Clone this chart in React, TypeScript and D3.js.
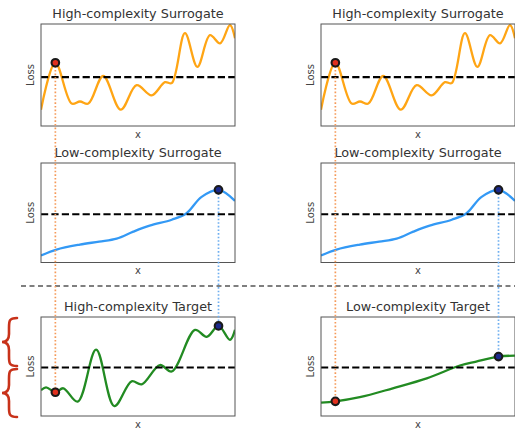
import React from "react";
import * as d3 from "d3";

// ---- data (x in 0..100 across the panel, y = normalised loss 0..1) ----
const hiSurrX = [0, 7.4, 15.8, 20.1, 24.4, 32.1, 41.1, 49.3, 57.0, 63.9, 67.4, 74.2, 80.6, 87.1, 92.3, 97.4, 100];
const hiSurrY = [0.16, 0.62, 0.22, 0.24, 0.22, 0.49, 0.16, 0.40, 0.30, 0.43, 0.42, 0.91, 0.58, 0.89, 0.81, 0.99, 0.86];

const loSurrX = [0, 8, 20, 30, 39, 47.6, 56, 67.4, 74.7, 82.8, 91.5, 100];
const loSurrY = [0.07, 0.13, 0.18, 0.21, 0.24, 0.31, 0.37, 0.43, 0.49, 0.66, 0.73, 0.62];

const hiTargX = [0, 2.6, 7.4, 11.5, 18.9, 28.4, 37.8, 46.7, 51.9, 61.3, 67.4, 79.4, 85.4, 91.5, 97.4, 100];
const hiTargY = [0.26, 0.29, 0.24, 0.28, 0.145, 0.67, 0.10, 0.35, 0.32, 0.515, 0.45, 0.87, 0.80, 0.91, 0.77, 0.87];

const loTargX = [0, 7.4, 20, 37, 54.5, 71.6, 80, 91.5, 100];
const loTargY = [0.135, 0.148, 0.19, 0.28, 0.38, 0.51, 0.55, 0.60, 0.61];

const thresholds = [0.48, 0.485, 0.49, 0.49]; // hiSurr, loSurr, hiTarg, loTarg

const redX = 7.4;
const blueX = 91.5;
const redY = { hiSurr: 0.62, hiTarg: 0.24, loTarg: 0.148 };
const blueY = { loSurr: 0.73, hiTarg: 0.91, loTarg: 0.60 };

const titles = [
  "High-complexity Surrogate",
  "Low-complexity Surrogate",
  "High-complexity Target",
  "Low-complexity Target",
];

// ---- layout ----
const W = 515;
const H = 428;
const colX = [41, 321];
const panelW = 194;
const rows = [
  { y: 24, h: 102 },
  { y: 163, h: 99.5 },
  { y: 317, h: 99 },
];

const ORANGE = "#ffa514";
const BLUE = "#3399f5";
const GREEN = "#228b22";
const RED_FILL = "#e0301e";
const NAVY_FILL = "#1c2a8c";
const FONT = "DejaVu Sans, Verdana, sans-serif";

function makeScales(col: number, row: number) {
  const x = d3.scaleLinear().domain([0, 100]).range([colX[col], colX[col] + panelW]);
  const r = rows[row];
  const y = d3.scaleLinear().domain([0, 1]).range([r.y + r.h, r.y]);
  return { x, y };
}

type PanelProps = {
  col: number;
  row: number;
  title: string;
  xs: number[];
  ys: number[];
  color: string;
  threshold: number;
};

function Panel({ col, row, title, xs, ys, color, threshold }: PanelProps) {
  const { x, y } = makeScales(col, row);
  const r = rows[row];
  const pts: [number, number][] = xs.map((v, i) => [v, ys[i]]);
  const line = d3
    .line<[number, number]>()
    .x((d) => x(d[0]))
    .y((d) => y(d[1]))
    .curve(d3.curveCatmullRom.alpha(0.5));
  const cx = colX[col] + panelW / 2;
  const clipId = `clip-${col}-${row}`;
  return (
    <g>
      <defs>
        <clipPath id={clipId}>
          <rect x={colX[col]} y={r.y} width={panelW} height={r.h} />
        </clipPath>
      </defs>
      <text x={cx} y={r.y - 6.5} textAnchor="middle" fontSize={12.8} fill="#333" fontFamily={FONT}>
        {title}
      </text>
      <text
        transform={`translate(${colX[col] - 7},${r.y + r.h / 2}) rotate(-90)`}
        textAnchor="middle"
        fontSize={10}
        fill="#444"
        fontFamily={FONT}
      >
        Loss
      </text>
      <text x={cx} y={r.y + r.h + 11.5} textAnchor="middle" fontSize={10} fill="#444" fontFamily={FONT}>
        x
      </text>
      <g clipPath={`url(#${clipId})`}>
        <path d={line(pts) || ""} fill="none" stroke={color} strokeWidth={2.3} strokeLinejoin="round" />
      </g>
      <line
        x1={colX[col]}
        x2={colX[col] + panelW}
        y1={y(threshold)}
        y2={y(threshold)}
        stroke="#000"
        strokeWidth={2.2}
        strokeDasharray="7.2,3.2"
      />
      <rect x={colX[col]} y={r.y} width={panelW} height={r.h} fill="none" stroke="#555" strokeWidth={1} />
    </g>
  );
}

function Brace({ x, y1, y2 }: { x: number; y1: number; y2: number }) {
  const m = (y1 + y2) / 2;
  const tip = x - 15;
  const mid = x - 8;
  const d = `M${x},${y1} C${mid},${y1} ${mid},${y1 + 3} ${mid},${y1 + 10} L${mid},${m - 8} C${mid},${m - 2} ${mid - 3},${m} ${tip},${m} C${mid - 3},${m} ${mid},${m + 2} ${mid},${m + 8} L${mid},${y2 - 10} C${mid},${y2 - 3} ${mid},${y2} ${x},${y2}`;
  return <path d={d} fill="none" stroke="#c8321a" strokeWidth={2.6} strokeLinecap="round" />;
}

function Marker({ cx, cy, fill }: { cx: number; cy: number; fill: string }) {
  return <circle cx={cx} cy={cy} r={3.8} fill={fill} stroke="#1a1a1a" strokeWidth={2.1} />;
}

export default function App() {
  const panels = [0, 1].map((col) => (
    <g key={col}>
      <Panel col={col} row={0} title={titles[0]} xs={hiSurrX} ys={hiSurrY} color={ORANGE} threshold={thresholds[0]} />
      <Panel col={col} row={1} title={titles[1]} xs={loSurrX} ys={loSurrY} color={BLUE} threshold={thresholds[1]} />
      {col === 0 ? (
        <Panel col={0} row={2} title={titles[2]} xs={hiTargX} ys={hiTargY} color={GREEN} threshold={thresholds[2]} />
      ) : (
        <Panel col={1} row={2} title={titles[3]} xs={loTargX} ys={loTargY} color={GREEN} threshold={thresholds[3]} />
      )}
    </g>
  ));

  const guides = [0, 1].map((col) => {
    const top = makeScales(col, 0);
    const mid = makeScales(col, 1);
    const bot = makeScales(col, 2);
    const rY = col === 0 ? redY.hiTarg : redY.loTarg;
    const bY = col === 0 ? blueY.hiTarg : blueY.loTarg;
    return (
      <g key={col}>
        <line
          x1={top.x(redX)}
          x2={top.x(redX)}
          y1={top.y(redY.hiSurr)}
          y2={bot.y(rY)}
          stroke="#f59a5a"
          strokeWidth={1.7}
          strokeDasharray="1.6,2"
        />
        <line
          x1={mid.x(blueX)}
          x2={mid.x(blueX)}
          y1={mid.y(blueY.loSurr)}
          y2={bot.y(bY)}
          stroke="#6eaef0"
          strokeWidth={1.7}
          strokeDasharray="1.6,2"
        />
        <Marker cx={top.x(redX)} cy={top.y(redY.hiSurr)} fill={RED_FILL} />
        <Marker cx={mid.x(blueX)} cy={mid.y(blueY.loSurr)} fill={NAVY_FILL} />
        <Marker cx={bot.x(redX)} cy={bot.y(rY)} fill={RED_FILL} />
        <Marker cx={bot.x(blueX)} cy={bot.y(bY)} fill={NAVY_FILL} />
      </g>
    );
  });

  return (
    <svg
      width={W}
      height={H}
      viewBox={`0 0 ${W} ${H}`}
      style={{ position: "absolute", left: 0, top: 0, background: "#fff" }}
    >
      <rect x={0} y={0} width={W} height={H} fill="#fff" />
      {panels}
      <line x1={21} x2={W} y1={286} y2={286} stroke="#555" strokeWidth={1.3} strokeDasharray="5,3.5" />
      {guides}
      <Brace x={17} y1={318} y2={366} />
      <Brace x={17} y1={369} y2={417} />
    </svg>
  );
}
